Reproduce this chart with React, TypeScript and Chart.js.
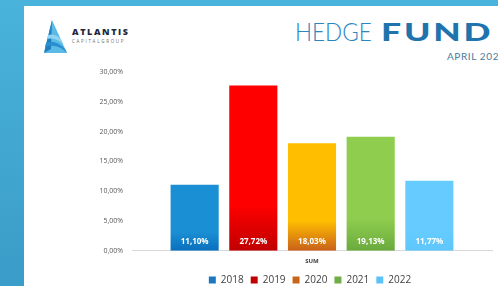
import React, { useEffect, useRef } from "react";
import { Chart, registerables } from "chart.js";

Chart.register(...registerables);

const categories = ["SUM"];
const seriesNames = ["2018", "2019", "2020", "2021", "2022"];
const seriesValues = [11.1, 27.72, 18.03, 19.13, 11.77];
const yTicks = [0, 5, 10, 15, 20, 25, 30];
const topColors = ["#1a8fd3", "#ff0000", "#ffbf00", "#8fcd4e", "#66ccff"];
const bottomColors = ["#0a6fbd", "#c00000", "#c8601a", "#6aaa3e", "#5ec6fb"];
const legendColors = ["#1f76c0", "#c00000", "#c8651b", "#70ad47", "#5bc2f7"];

const fmt = (v: number) => v.toFixed(2).replace(".", ",") + "%";

const labelPlugin = {
  id: "barLabels",
  afterLayout(chart: any) {
    const ca = chart.chartArea;
    const lg = chart.legend;
    if (!ca || !lg) return;
    const shift = (ca.left + ca.right) / 2 - (lg.left + lg.right) / 2 - 2;
    lg.left += shift;
    lg.right += shift;
    lg.top -= 4;
    lg.bottom -= 4;
  },
  afterDatasetsDraw(chart: any) {
    const ctx = chart.ctx;
    ctx.save();
    ctx.font = "bold 8px 'Open Sans', sans-serif";
    ctx.fillStyle = "#ffffff";
    ctx.textAlign = "center";
    ctx.textBaseline = "middle";
    chart.data.datasets.forEach((ds: any, i: number) => {
      const meta = chart.getDatasetMeta(i);
      meta.data.forEach((bar: any, j: number) => {
        ctx.fillText(fmt(ds.data[j]), bar.x, bar.base - 9);
      });
    });
    ctx.restore();
  },
};

function Logo() {
  return (
    <svg width="30" height="36" viewBox="0 0 30 36" style={{ position: "absolute", left: 41, top: 19 }}>
      <path d="M11 1 L3 34 L26 34 Z" fill="#5bbbe6" />
      <path d="M11 1 L3 34 L10 30 Z" fill="#1f7fc0" />
      <path d="M5 24 Q14 20 24 30 L26 34 Q16 24 4 28 Z" fill="#2a8fd0" />
      <path d="M7 16 Q15 14 21 22 L22 25 Q14 18 6 20 Z" fill="#8fd3f2" />
    </svg>
  );
}

export default function App() {
  const ref = useRef<HTMLCanvasElement>(null);
  useEffect(() => {
    const c = ref.current!;
    const chart = new Chart(c, {
      type: "bar",
      data: {
        labels: categories,
        datasets: seriesNames.map((name, i) => ({
          label: name,
          data: [seriesValues[i]],
          backgroundColor: (context: any) => {
            const ch = context.chart;
            const area = ch.chartArea;
            if (!area || !ch.scales.y) return topColors[i];
            const y = ch.scales.y;
            const top = y.getPixelForValue(seriesValues[i]);
            const base = y.getPixelForValue(0);
            const g = ch.ctx.createLinearGradient(0, top, 0, base);
            g.addColorStop(0, topColors[i]);
            g.addColorStop(0.72, topColors[i]);
            g.addColorStop(1, bottomColors[i]);
            return g;
          },
          borderWidth: 0,
          categoryPercentage: 0.815,
          barPercentage: 0.82,
        })),
      },
      options: {
        animation: false,
        responsive: false,
        maintainAspectRatio: false,
        layout: { padding: { left: 0, right: 6, top: 72, bottom: 0 } },
        plugins: {
          tooltip: { enabled: false },
          legend: {
            position: "bottom",
            labels: {
              boxWidth: 7,
              boxHeight: 7,
              padding: 7,
              color: "#404040",
              font: { size: 10, family: "'Open Sans', sans-serif" },
              generateLabels: () =>
                seriesNames.map((n, i) => ({
                  text: n,
                  fillStyle: legendColors[i],
                  strokeStyle: legendColors[i],
                  lineWidth: 0,
                  hidden: false,
                  datasetIndex: i,
                  fontColor: "#404040",
                })),
            },
          },
        },
        scales: {
          x: {
            grid: { display: false, drawTicks: false },
            border: { display: true, color: "#d9d9d9", width: 1 },
            ticks: {
              padding: 7,
              color: "#404040",
              font: { size: 6, weight: "bold", family: "'Open Sans', sans-serif" },
            },
          },
          y: {
            min: 0,
            max: 30,
            afterFit: (scale: any) => {
              scale.width = 132;
            },
            afterBuildTicks: (scale: any) => {
              scale.ticks = yTicks.map((v) => ({ value: v }));
            },
            grid: { display: false, drawTicks: false },
            border: { display: false },
            ticks: {
              padding: 9,
              color: "#595959",
              font: { size: 7, family: "'Open Sans', sans-serif" },
              callback: (v: any) => fmt(Number(v)),
            },
          },
        },
      },
      plugins: [labelPlugin],
    });
    return () => chart.destroy();
  }, []);

  return (
    <div
      style={{
        position: "fixed",
        left: 0,
        top: 0,
        width: 498,
        height: 286,
        overflow: "hidden",
        background: "linear-gradient(#49b3db, #3a9cc8)",
      }}
    >
      <div style={{ position: "absolute", left: 24, top: 6, width: 474, height: 280, background: "#ffffff" }} />
      <Logo />
      <div
        style={{
          position: "absolute",
          left: 72,
          top: 27,
          fontFamily: "'Open Sans', sans-serif",
          fontWeight: 800,
          fontSize: 9,
          letterSpacing: 1.6,
          color: "#1e2a3c",
          lineHeight: "10px",
          whiteSpace: "nowrap",
        }}
      >
        ATLANTIS
      </div>
      <div
        style={{
          position: "absolute",
          left: 72,
          top: 38,
          fontFamily: "'Open Sans', sans-serif",
          fontSize: 4.5,
          letterSpacing: 1.7,
          color: "#6a6a6a",
          lineHeight: "6px",
          whiteSpace: "nowrap",
        }}
      >
        CAPITALGROUP
      </div>
      <div
        style={{
          position: "absolute",
          left: 295,
          top: 14,
          whiteSpace: "nowrap",
          fontFamily: "Lato, sans-serif",
          fontSize: 25,
          lineHeight: "34px",
          fontWeight: 300,
          color: "#2b86bd",
          transform: "scaleX(0.9)",
          transformOrigin: "left center",
        }}
      >
        HEDGE
      </div>
      <div
        style={{
          position: "absolute",
          left: 381,
          top: 14,
          whiteSpace: "nowrap",
          fontFamily: "Lato, sans-serif",
          fontSize: 25,
          lineHeight: "34px",
          fontWeight: 900,
          letterSpacing: 2,
          color: "#1f74ad",
          transform: "scaleX(1.42)",
          transformOrigin: "left center",
        }}
      >
        FUND
      </div>
      <div
        style={{
          position: "absolute",
          left: 447,
          top: 50,
          whiteSpace: "nowrap",
          fontFamily: "Lato, sans-serif",
          fontSize: 10,
          letterSpacing: 0.6,
          color: "#4a7b99",
        }}
      >
        APRIL 2022
      </div>
      <canvas ref={ref} width={498} height={299} style={{ position: "absolute", left: 0, top: 0 }} />
    </div>
  );
}
